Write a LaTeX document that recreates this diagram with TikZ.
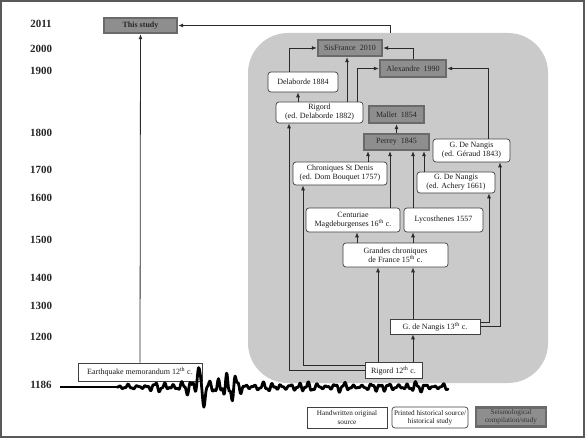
\documentclass[tikz,border=0pt]{standalone}
\usepackage{fontspec}
\setmainfont{Liberation Serif}
\usetikzlibrary{arrows.meta,calc}
\definecolor{regiongray}{HTML}{CACACA}
\definecolor{boxdark}{HTML}{8E8E8E}
\definecolor{boxedge}{HTML}{6A6A6A}
\definecolor{lineclr}{HTML}{2A2A2A}
\begin{document}
\begin{tikzpicture}[x=1pt,y=-1pt,
  base/.style={inner sep=0pt, align=center, font=\fontsize{8}{9}\selectfont, text=black!90},
  hw/.style={base, draw=black!75, fill=white, line width=0.7pt},
  pr/.style={base, draw=black!75, fill=white, line width=0.7pt, rounded corners=3pt},
  sm/.style={base, draw=boxedge, fill=boxdark, line width=2.4pt, text=black!85},
  yr/.style={font=\fontsize{11}{12}\selectfont\bfseries, text=black!85},
  lg/.style={font=\fontsize{7.2}{8.4}\selectfont},
  arr/.style={draw=lineclr, line width=0.8pt, -{Latex[length=5pt,width=4pt]}},
  region/.style={fill=regiongray, rounded corners=40pt, inner sep=0pt},
]
\useasboundingbox (0,0) rectangle (585,438);

% column coordinates
\coordinate (c289) at (289,0);
\coordinate (c298) at (298,0);
\coordinate (c303) at (303,0);
\coordinate (c347) at (347,0);
\coordinate (c357) at (357,0);
\coordinate (c368) at (368,0);
\coordinate (c378) at (378,0);
\coordinate (c390) at (390,0);
\coordinate (c413) at (413,0);
\coordinate (c424) at (424,0);
\coordinate (c488) at (488,0);
\coordinate (c489) at (489,0);
\coordinate (c500) at (500,0);

% gray region
\node[region, minimum width=300pt, minimum height=350pt] (region) at (398,208) {};

% year labels
\node[yr] (y2011) at (41,24) {2011};
\node[yr] (y2000) at (41,49) {2000};
\node[yr] (y1900) at (41,71) {1900};
\node[yr] (y1800) at (41,133) {1800};
\node[yr] (y1700) at (41,170) {1700};
\node[yr] (y1600) at (41,198) {1600};
\node[yr] (y1500) at (41,240) {1500};
\node[yr] (y1400) at (41,278) {1400};
\node[yr] (y1300) at (41,306) {1300};
\node[yr] (y1200) at (41,337) {1200};
\node[yr] (y1186) at (41,385) {1186};

% seismological compilations
\node[sm, minimum width=73pt, minimum height=15pt] (thisstudy) at (140.5,25.5) {\bfseries This study};
\node[sm, minimum width=64pt, minimum height=16pt] (sisfrance) at (350,48) {SisFrance\enspace 2010};
\node[sm, minimum width=66pt, minimum height=17pt] (alexandre) at (413,68.5) {Alexandre\enspace 1990};
\node[sm, minimum width=55pt, minimum height=17pt] (mallet) at (396.5,114.5) {Mallet\enspace 1854};
\node[sm, minimum width=65pt, minimum height=16pt] (perrey) at (396.5,142) {Perrey\enspace 1845};

% printed sources
\node[pr, minimum width=70pt, minimum height=20pt] (delab) at (303,82) {Delaborde 1884};
\node[pr, minimum width=87pt, minimum height=21pt] (rigordD) at (319.5,112.5) {Rigord\\(ed. Delaborde 1882)};
\node[pr, minimum width=77pt, minimum height=23pt] (nangisG) at (471.5,150.5) {G. De Nangis\\(ed. Géraud 1843)};
\node[pr, minimum width=94pt, minimum height=23pt] (stdenis) at (340,173.5) {Chroniques St Denis\\(ed. Dom Bouquet 1757)};
\node[pr, minimum width=78pt, minimum height=21pt] (nangisA) at (456,182.5) {G. De Nangis\\(ed. Achery 1661)};
\node[pr, minimum width=94pt, minimum height=24pt] (centuriae) at (353,220) {Centuriae\\Magdeburgenses 16\textsuperscript{th} c.};
\node[pr, minimum width=79pt, minimum height=24pt] (lycos) at (443.5,220) {Lycosthenes 1557};
\node[pr, minimum width=105pt, minimum height=24pt] (grandes) at (395.5,255) {Grandes chroniques\\de France 15\textsuperscript{th} c.};

% handwritten sources
\node[hw, minimum width=90pt, minimum height=15pt] (nangis13) at (435,326.5) {G. de Nangis 13\textsuperscript{th} c.};
\node[hw, minimum width=57pt, minimum height=16pt] (rigord12) at (393.5,370.5) {Rigord 12\textsuperscript{th} c.};
\node[hw, minimum width=124pt, minimum height=18pt] (memo) at (140,372) {Earthquake memorandum 12\textsuperscript{th} c.};

% connectors
\draw[arr] (memo.north) -- (thisstudy.south);
\draw[arr] (region.north -| c390) |- (thisstudy.east);
\draw[arr] (rigord12.west) -| (c289 |- rigordD.south);
\draw[arr] ([yshift=5.5pt]rigord12.west) -| (c303 |- stdenis.south);
\draw[arr] (rigord12.north -| c378) -- (grandes.south -| c378);
\draw[arr] (rigord12.north -| c413) -- (nangis13.south -| c413);
\draw[arr] (nangis13.north -| c413) -- (grandes.south -| c413);
\draw[arr] ([yshift=4.5pt]nangis13.east) -| (c489 |- nangisA.south);
\draw[arr] ([yshift=0.5pt]nangis13.east) -| (c500 |- nangisG.south);
\draw[arr] (grandes.north -| c357) -- (centuriae.south -| c357);
\draw[arr] (grandes.north -| c413) -- (lycos.south -| c413);
\draw[arr] (centuriae.north -| c390) -- (perrey.south -| c390);
\draw[arr] (stdenis.north -| c368) -- (perrey.south -| c368);
\draw[arr] (lycos.north -| c413) -- (perrey.south -| c413);
\draw[arr] (nangisA.north -| c424) -- (perrey.south -| c424);
\draw[arr] (perrey.north) -- (mallet.south);
\draw[arr] (rigordD.north -| c298) -- (delab.south -| c298);
\draw[arr] (rigordD.north -| c347) -- (sisfrance.south -| c347);
\draw[arr] (rigordD.north -| c357) |- (alexandre.west);
\draw[arr] (delab.north -| c289) |- (sisfrance.west);
\draw[arr] (alexandre.north -| c413) |- (sisfrance.east);
\draw[arr] (nangisG.north -| c488) |- (alexandre.east);

% seismogram
\coordinate (s0) at (60,387);
\coordinate (s1) at (117,387);
\draw[black, line width=1.4pt] (s0) -- (s1);
\draw[black, line width=2.8pt, line join=round, line cap=round]
  plot[domain=117:448, samples=500]
  (\x, {387
    - (1-exp(-(\x-117)/8))*(2.8 + 3.0*exp(max(-30,-((\x-182)/13)^2)) + 8.5*exp(max(-30,-((\x-222)/18)^2)) + 0.8*exp(max(-30,-((\x-300)/25)^2)) + 0.8*exp(max(-30,-((\x-400)/20)^2)))
      *(sin(mod(\x,9)*40) + 0.5*sin(mod(\x,4.1)*87.805) + 0.3*sin(mod(\x,13.7)*26.277))
      *(0.75+0.35*sin(mod(\x,37)*9.7297))
    - 17*exp(max(-30,-((\x-199)/2.2)^2)) + 14*exp(max(-30,-((\x-203.5)/2.2)^2))});

% legend
\node[hw, lg, minimum width=80pt, minimum height=21pt] (lghw) at (347,417.5) {Handwritten original\\source};
\node[pr, lg, minimum width=76pt, minimum height=21pt] (lgpr) at (430,417.5) {Printed historical source/\\historical study};
\node[sm, lg, minimum width=70pt, minimum height=19pt, text=black!80] (lgsm) at (511,417) {Seismological\\compilation/study};

% frame
\draw[black!65, line width=1.5pt] (1,1) rectangle (584,437);
\end{tikzpicture}
\end{document}
